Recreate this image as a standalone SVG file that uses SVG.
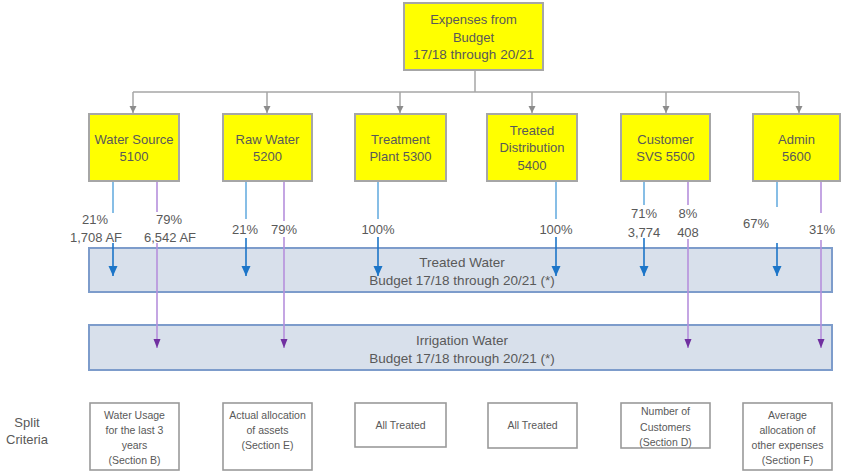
<svg xmlns="http://www.w3.org/2000/svg" width="842" height="471" viewBox="0 0 842 471">
<style>
text{font-family:"Liberation Sans",Arial,sans-serif;fill:#595959;text-anchor:middle}
.t13{font-size:13px}
.t14{font-size:13.5px}
.t11{font-size:10.5px}
.ybox{fill:#FFFF00;stroke:#A6A6A6;stroke-width:2}
.bbox{fill:#D8E0EB;stroke:#7D9CCB;stroke-width:2}
.wbox{fill:#FFFFFF;stroke:#9A9A9A;stroke-width:1.6}
.gray{stroke:#A6A6A6;stroke-width:1.5;fill:none}
.lb{stroke:#6AAEE0;stroke-width:1.6;fill:none}
.db{stroke:#1C75C8;stroke-width:1.6;fill:none}
.pu{stroke:#B690DC;stroke-width:1.6;fill:none}
</style>
<defs>
<marker id="ag" markerUnits="userSpaceOnUse" markerWidth="8" markerHeight="8" refX="7" refY="3.5" orient="auto"><path d="M0,0 L7,3.5 L0,7 z" fill="#8C8C8C"/></marker>
<marker id="ab" markerUnits="userSpaceOnUse" markerWidth="11" markerHeight="10" refX="10" refY="4.5" orient="auto"><path d="M0,0 L10,4.5 L0,9 z" fill="#1C75C8"/></marker>
<marker id="ap" markerUnits="userSpaceOnUse" markerWidth="10" markerHeight="8" refX="9" refY="3.5" orient="auto"><path d="M0,0 L9,3.5 L0,7 z" fill="#7030A0"/></marker>
</defs>

<rect width="842" height="471" fill="#FFFFFF"/>

<g id="treated-water">
<rect class="bbox" x="89" y="248" width="743" height="44"/>
<text class="t14" x="462" y="266.5">Treated Water</text>
<text class="t14" x="462" y="284.5">Budget 17/18 through 20/21 (*)</text>
</g>
<g id="irrigation-water">
<rect class="bbox" x="89" y="325" width="743" height="45"/>
<text class="t14" x="462" y="345">Irrigation Water</text>
<text class="t14" x="462" y="363">Budget 17/18 through 20/21 (*)</text>
</g>

<g id="connectors">
<path class="gray" d="M475,70 V92 M133,92 H799"/>
<path class="gray" marker-end="url(#ag)" d="M133,92 V113"/>
<path class="gray" marker-end="url(#ag)" d="M267,92 V113"/>
<path class="gray" marker-end="url(#ag)" d="M400,92 V113"/>
<path class="gray" marker-end="url(#ag)" d="M532,92 V113"/>
<path class="gray" marker-end="url(#ag)" d="M666,92 V113"/>
<path class="gray" marker-end="url(#ag)" d="M799,92 V113"/>

<path class="lb" d="M113,181 V213 M246,181 V219 M378,181 V219 M556,181 V219 M644,181 V205 M777,181 V207"/>
<path class="pu" d="M157,181 V212 M284,181 V221 M688,181 V205 M821,181 V213"/>

<path class="db" marker-end="url(#ab)" d="M113,243 V276"/>
<path class="db" marker-end="url(#ab)" d="M246,238 V276"/>
<path class="db" marker-end="url(#ab)" d="M378,237 V276"/>
<path class="db" marker-end="url(#ab)" d="M556,237 V276"/>
<path class="db" marker-end="url(#ab)" d="M644,238 V276"/>
<path class="db" marker-end="url(#ab)" d="M777,243 V276"/>

<path class="pu" marker-end="url(#ap)" d="M157,243 V348"/>
<path class="pu" marker-end="url(#ap)" d="M284,237 V348"/>
<path class="pu" marker-end="url(#ap)" d="M688,239 V348"/>
<path class="pu" marker-end="url(#ap)" d="M821,240 V348"/>

<g class="t13">
<text x="95" y="223.5">21%</text>
<text x="96" y="241.5">1,708 AF</text>
<text x="169" y="223.5">79%</text>
<text x="170" y="241.5">6,542 AF</text>
<text x="245" y="233.5">21%</text>
<text x="284" y="233.5">79%</text>
<text x="378" y="233.5">100%</text>
<text x="556" y="233.5">100%</text>
<text x="644" y="217.5">71%</text>
<text x="644" y="236.5">3,774</text>
<text x="688" y="217.5">8%</text>
<text x="688" y="236.5">408</text>
<text x="756" y="227.5">67%</text>
<text x="822" y="233.5">31%</text>
</g>
</g>

<g id="expenses">
<rect class="ybox" x="404" y="3" width="139" height="67"/>
<text class="t13" x="473.5" y="24">Expenses from</text>
<text class="t13" x="473.5" y="41.5">Budget</text>
<text class="t14" x="473.5" y="59">17/18 through 20/21</text>
</g>

<g id="water-source">
<rect class="ybox" x="89" y="114" width="90" height="67"/>
<text class="t13" x="134" y="143.5">Water Source</text>
<text class="t13" x="134" y="160.5">5100</text>
</g>
<g id="raw-water">
<rect class="ybox" x="223" y="114" width="89" height="67"/>
<text class="t13" x="267.5" y="143.5">Raw Water</text>
<text class="t13" x="267.5" y="160.5">5200</text>
</g>
<g id="treatment-plant">
<rect class="ybox" x="355" y="114" width="91" height="67"/>
<text class="t13" x="400.5" y="143.5">Treatment</text>
<text class="t13" x="400.5" y="160.5">Plant 5300</text>
</g>
<g id="treated-distribution">
<rect class="ybox" x="487" y="114" width="90" height="67"/>
<text class="t13" x="532" y="134.5">Treated</text>
<text class="t13" x="532" y="151.5">Distribution</text>
<text class="t13" x="532" y="169.5">5400</text>
</g>
<g id="customer-svs">
<rect class="ybox" x="621" y="114" width="89" height="67"/>
<text class="t13" x="665.5" y="143.5">Customer</text>
<text class="t13" x="665.5" y="160.5">SVS 5500</text>
</g>
<g id="admin">
<rect class="ybox" x="753" y="114" width="87" height="67"/>
<text class="t13" x="796.5" y="143.5">Admin</text>
<text class="t13" x="796.5" y="160.5">5600</text>
</g>

<g id="split-criteria">
<text class="t13" x="27" y="426.5">Split</text>
<text class="t13" x="27" y="443.5">Criteria</text>
</g>

<g id="crit-water-usage">
<rect class="wbox" x="90" y="403" width="89" height="67"/>
<text class="t11" x="134.5" y="419">Water Usage</text>
<text class="t11" x="134.5" y="434">for the last 3</text>
<text class="t11" x="134.5" y="449">years</text>
<text class="t11" x="134.5" y="464">(Section B)</text>
</g>
<g id="crit-actual-allocation">
<rect class="wbox" x="223" y="403" width="89" height="67"/>
<text class="t11" x="267.5" y="419">Actual allocation</text>
<text class="t11" x="267.5" y="434">of assets</text>
<text class="t11" x="267.5" y="449">(Section E)</text>
</g>
<g id="crit-all-treated-1">
<rect class="wbox" x="355" y="403" width="91" height="44"/>
<text class="t11" x="400.5" y="429">All Treated</text>
</g>
<g id="crit-all-treated-2">
<rect class="wbox" x="488" y="403" width="89" height="45"/>
<text class="t11" x="532.5" y="429">All Treated</text>
</g>
<g id="crit-customers">
<rect class="wbox" x="621" y="403" width="89" height="45"/>
<text class="t11" x="665.5" y="415">Number of</text>
<text class="t11" x="665.5" y="430.5">Customers</text>
<text class="t11" x="665.5" y="446">(Section D)</text>
</g>
<g id="crit-average">
<rect class="wbox" x="743" y="403" width="89" height="67"/>
<text class="t11" x="787.5" y="419">Average</text>
<text class="t11" x="787.5" y="434">allocation of</text>
<text class="t11" x="787.5" y="449">other expenses</text>
<text class="t11" x="787.5" y="464">(Section F)</text>
</g>
</svg>
